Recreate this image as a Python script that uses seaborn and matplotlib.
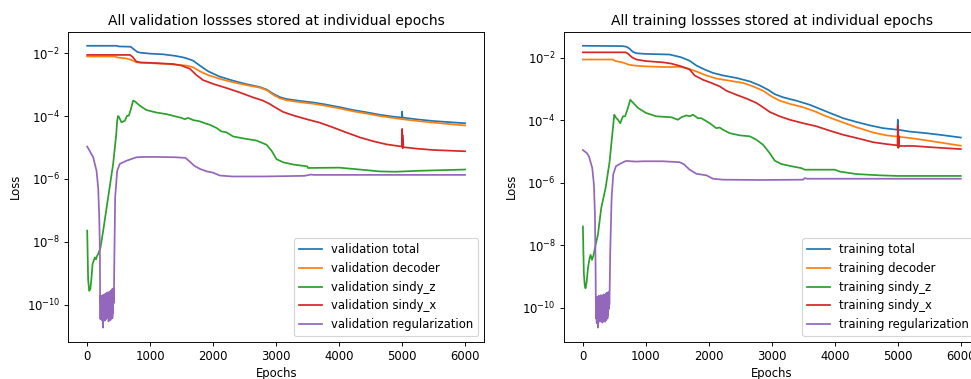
import numpy as np
import pandas as pd
import matplotlib
matplotlib.use("Agg")
import matplotlib.pyplot as plt
import seaborn as sns
from matplotlib.ticker import NullLocator

# ---------------- data (log10 of loss) ----------------
series_names = ["total", "decoder", "sindy_z", "sindy_x", "regularization"]

# ---- validation ----
val_total_epochs = [0, 470, 500, 690, 740, 800, 850, 1000, 1200, 1400, 1550, 1680, 1790, 1920, 2105,
                    2320, 2530, 2740, 2850, 2950, 3060, 3165, 3375, 3590, 3800, 4010, 4220, 4430,
                    4645, 4855, 4995, 5000, 5005, 5250, 5500, 6000]
val_total_log10 = [-1.77, -1.77, -1.79, -1.80, -1.88, -1.97, -1.99, -2.02, -2.04, -2.09, -2.15, -2.24,
                   -2.40, -2.58, -2.75, -2.88, -2.99, -3.08, -3.16, -3.29, -3.40, -3.46, -3.52, -3.57,
                   -3.64, -3.72, -3.81, -3.88, -3.96, -4.02, -4.05, -3.86, -4.05, -4.11, -4.16, -4.23]

val_decoder_epochs = [0, 440, 480, 560, 620, 700, 780, 850, 1000, 1365, 1577, 1680, 1790, 1920, 2105,
                      2320, 2530, 2740, 2850, 2950, 3060, 3165, 3375, 3590, 3800, 4010, 4220, 4430,
                      4645, 4855, 5000, 5250, 5500, 6000]
val_decoder_log10 = [-2.11, -2.11, -2.14, -2.16, -2.17, -2.22, -2.29, -2.31, -2.32, -2.36, -2.40, -2.45,
                     -2.58, -2.70, -2.82, -2.93, -3.02, -3.10, -3.18, -3.32, -3.44, -3.50, -3.56, -3.61,
                     -3.68, -3.76, -3.85, -3.92, -4.00, -4.06, -4.10, -4.16, -4.21, -4.30]

val_sindy_z_epochs = [0, 15, 32, 50, 69, 85, 122, 140, 155, 175, 212, 254, 333, 412, 460, 476, 490, 507,
                      544, 597, 634, 660, 687, 729, 760, 835, 940, 1099, 1257, 1416, 1497, 1548, 1603,
                      1683, 1788, 1868, 1947, 2053, 2132, 2212, 2317, 2476, 2688, 2846, 2926, 3005,
                      3111, 3270, 3495, 3505, 4000, 4222, 4646, 4900, 5250, 6000]
val_sindy_z_log10 = [-7.64, -9.20, -9.55, -9.50, -9.12, -8.70, -8.49, -8.55, -8.45, -8.38, -8.17, -7.64,
                     -6.58, -5.52, -4.60, -4.15, -4.00, -4.04, -4.20, -4.15, -3.99, -3.99, -3.83, -3.51,
                     -3.54, -3.67, -3.81, -3.89, -3.94, -4.02, -4.06, -4.10, -4.06, -4.13, -4.17, -4.23,
                     -4.28, -4.38, -4.49, -4.52, -4.65, -4.71, -4.78, -4.91, -5.10, -5.37, -5.47, -5.54,
                     -5.60, -5.65, -5.64, -5.68, -5.76, -5.77, -5.74, -5.70]

val_sindy_x_epochs = [0, 680, 720, 780, 850, 1000, 1365, 1500, 1630, 1735, 1840, 2000, 2210, 2420, 2635,
                      2790, 2900, 3005, 3110, 3270, 3480, 3690, 3900, 4110, 4330, 4540, 4750, 4995,
                      5000, 5003, 5006, 5010, 5014, 5020, 5250, 5500, 6000]
val_sindy_x_log10 = [-2.06, -2.06, -2.12, -2.27, -2.30, -2.31, -2.35, -2.40, -2.50, -2.70, -2.86, -2.98,
                     -3.11, -3.25, -3.41, -3.51, -3.62, -3.75, -3.87, -3.98, -4.10, -4.21, -4.36, -4.52,
                     -4.68, -4.80, -4.90, -4.97, -4.41, -4.95, -4.60, -5.02, -4.75, -4.99, -5.04, -5.08,
                     -5.12]

val_reg_epochs_a = [0, 37, 95, 148, 174, 190, 201]
val_reg_log10_a = [-4.97, -5.10, -5.31, -5.74, -6.27, -7.11, -8.17]
val_reg_noise_epochs = list(range(205, 430, 5))
val_reg_noise_log10 = [-9.75, -10.45, -9.70, -10.30, -9.85, -10.48, -9.72, -10.20, -9.90, -10.72,
                       -9.68, -10.40, -9.80, -10.35, -9.66, -10.50, -9.90, -10.15, -9.70, -10.45,
                       -9.62, -10.30, -9.85, -10.40, -9.60, -10.25, -9.75, -10.52, -9.65, -10.38,
                       -9.58, -10.20, -9.70, -10.48, -9.55, -10.30, -9.62, -10.10, -9.50, -10.42,
                       -9.58, -10.25, -9.48, -9.95, -9.60]
val_reg_epochs_b = [430, 444, 476, 518, 624, 782, 900, 1100, 1400, 1560, 1630, 1700, 1790, 1900, 2000,
                    2105, 2300, 2800, 3450, 3500, 3550, 3600, 4500, 6000]
val_reg_log10_b = [-8.70, -6.58, -5.74, -5.52, -5.42, -5.31, -5.30, -5.30, -5.31, -5.33, -5.45, -5.58,
                   -5.68, -5.76, -5.80, -5.89, -5.92, -5.92, -5.90, -5.88, -5.86, -5.87, -5.87, -5.87]

# ---- training ----
tr_total_epochs = [0, 630, 690, 740, 790, 850, 1000, 1377, 1563, 1695, 1800, 1933, 2066, 2225, 2437,
                   2648, 2807, 2940, 3046, 3178, 3390, 3602, 3760, 3919, 4131, 4343, 4555, 4767, 4995,
                   5000, 5005, 5191, 5450, 5700, 6000]
tr_total_log10 = [-1.61, -1.62, -1.64, -1.70, -1.80, -1.85, -1.87, -1.89, -1.98, -2.09, -2.24, -2.37,
                  -2.48, -2.56, -2.64, -2.75, -2.88, -3.02, -3.16, -3.26, -3.37, -3.50, -3.63, -3.76,
                  -3.93, -4.05, -4.16, -4.25, -4.30, -3.98, -4.30, -4.36, -4.41, -4.47, -4.55]

tr_decoder_epochs = [0, 470, 520, 600, 660, 720, 800, 1000, 1300, 1450, 1520, 1642, 1800, 1960, 2119,
                     2331, 2542, 2701, 2860, 2993, 3125, 3284, 3496, 3681, 3866, 4078, 4343, 4608,
                     4820, 5000, 5250, 5550, 5800, 6000]
tr_decoder_log10 = [-2.05, -2.05, -2.10, -2.13, -2.16, -2.21, -2.24, -2.27, -2.29, -2.29, -2.28, -2.32,
                    -2.43, -2.56, -2.66, -2.73, -2.80, -2.91, -3.05, -3.23, -3.37, -3.47, -3.58, -3.71,
                    -3.87, -4.03, -4.22, -4.39, -4.48, -4.52, -4.58, -4.67, -4.75, -4.81]

tr_sindy_z_epochs = [0, 15, 30, 42, 60, 80, 106, 122, 145, 170, 201, 238, 291, 360, 424, 466, 498, 520,
                     556, 593, 636, 670, 715, 752, 780, 874, 1000, 1165, 1404, 1509, 1563, 1642, 1695,
                     1748, 1827, 1880, 2013, 2119, 2170, 2225, 2331, 2490, 2648, 2754, 2860, 2966,
                     3046, 3152, 3337, 3470, 3522, 4000, 4078, 4343, 4700, 5000, 6000]
tr_sindy_z_log10 = [-7.40, -8.90, -9.30, -9.38, -9.17, -8.74, -8.42, -8.31, -8.47, -8.31, -7.99, -7.67,
                    -6.81, -6.17, -5.32, -4.46, -3.82, -3.90, -3.98, -4.09, -3.87, -3.87, -3.60, -3.34,
                    -3.40, -3.60, -3.76, -3.87, -3.90, -3.98, -3.90, -3.84, -3.87, -3.82, -3.93, -3.93,
                    -4.09, -4.25, -4.23, -4.30, -4.41, -4.48, -4.51, -4.62, -4.78, -5.05, -5.29, -5.40,
                    -5.48, -5.53, -5.58, -5.58, -5.64, -5.72, -5.76, -5.78, -5.78]

tr_sindy_x_epochs = [0, 680, 720, 780, 850, 1000, 1271, 1404, 1563, 1695, 1774, 1907, 2040, 2172, 2278,
                     2437, 2596, 2754, 2860, 2966, 3125, 3284, 3496, 3708, 3919, 4131, 4396, 4608,
                     4820, 4995, 5000, 5003, 5006, 5010, 5014, 5020, 5250, 5600, 6000]
tr_sindy_x_log10 = [-1.82, -1.82, -1.87, -1.98, -2.05, -2.10, -2.14, -2.18, -2.27, -2.37, -2.56, -2.70,
                    -2.80, -2.91, -3.05, -3.18, -3.30, -3.44, -3.58, -3.73, -3.87, -3.98, -4.09, -4.19,
                    -4.33, -4.46, -4.59, -4.70, -4.76, -4.80, -4.15, -4.85, -4.30, -4.88, -4.50, -4.82,
                    -4.82, -4.87, -4.92]

tr_reg_epochs_a = [0, 63, 95, 148, 175, 191, 201]
tr_reg_log10_a = [-4.95, -5.05, -5.15, -5.52, -6.05, -7.01, -8.61]
tr_reg_noise_epochs = list(range(205, 430, 5))
tr_reg_noise_log10 = [-9.70, -10.35, -9.80, -10.50, -9.65, -10.25, -9.90, -10.64, -9.75, -10.40,
                      -9.62, -10.30, -9.85, -10.45, -9.70, -10.20, -9.60, -10.38, -9.80, -10.28,
                      -9.66, -10.48, -9.72, -10.15, -9.58, -10.42, -9.82, -10.30, -9.60, -10.45,
                      -9.68, -10.22, -9.55, -10.40, -9.62, -10.18, -9.52, -10.35, -9.60, -10.25,
                      -9.50, -10.05, -9.55, -9.90, -9.45]
tr_reg_epochs_b = [434, 456, 482, 524, 600, 683, 847, 953, 1271, 1536, 1600, 1695, 1800, 1960, 2066,
                   2225, 2800, 3496, 3522, 3560, 6000]
tr_reg_log10_b = [-8.20, -6.48, -5.73, -5.47, -5.38, -5.30, -5.32, -5.31, -5.31, -5.34, -5.40, -5.58,
                  -5.71, -5.76, -5.87, -5.90, -5.91, -5.90, -5.85, -5.87, -5.87]

val_titles = "All validation lossses stored at individual epochs"
tr_titles = "All training lossses stored at individual epochs"

# ---------------- assemble ----------------
val_series = [
    (val_total_epochs, val_total_log10),
    (val_decoder_epochs, val_decoder_log10),
    (val_sindy_z_epochs, val_sindy_z_log10),
    (val_sindy_x_epochs, val_sindy_x_log10),
    (val_reg_epochs_a + val_reg_noise_epochs + val_reg_epochs_b,
     val_reg_log10_a + val_reg_noise_log10 + val_reg_log10_b),
]
tr_series = [
    (tr_total_epochs, tr_total_log10),
    (tr_decoder_epochs, tr_decoder_log10),
    (tr_sindy_z_epochs, tr_sindy_z_log10),
    (tr_sindy_x_epochs, tr_sindy_x_log10),
    (tr_reg_epochs_a + tr_reg_noise_epochs + tr_reg_epochs_b,
     tr_reg_log10_a + tr_reg_noise_log10 + tr_reg_log10_b),
]

colors = ["#1f77b4", "#ff7f0e", "#2ca02c", "#d62728", "#9467bd"]

W, H = 971, 379
DPI = 83.6
fig = plt.figure(figsize=(W / DPI, H / DPI), dpi=DPI)
ax_l = fig.add_axes([68.3 / W, (H - 341.7) / H, 415.7 / W, 310.0 / H])
ax_r = fig.add_axes([564.0 / W, (H - 341.7) / H, 415.7 / W, 310.0 / H])


def draw(ax, series, prefix, title):
    for (ep, lg), name, c in zip(series, series_names, colors):
        df = pd.DataFrame({"Epochs": ep, "Loss": np.power(10.0, lg)})
        sns.lineplot(data=df, x="Epochs", y="Loss", ax=ax, color=c,
                     label=f"{prefix} {name}", estimator=None, sort=False, linewidth=1.5)
    ax.set_yscale("log")
    ax.yaxis.set_minor_locator(NullLocator())
    ax.set_title(title, fontsize=12)
    ax.set_xlabel("Epochs")
    ax.set_ylabel("Loss")
    ax.legend(loc="lower right")


draw(ax_l, val_series, "validation", val_titles)
draw(ax_r, tr_series, "training", tr_titles)

fig.savefig("out.png", dpi=DPI)
